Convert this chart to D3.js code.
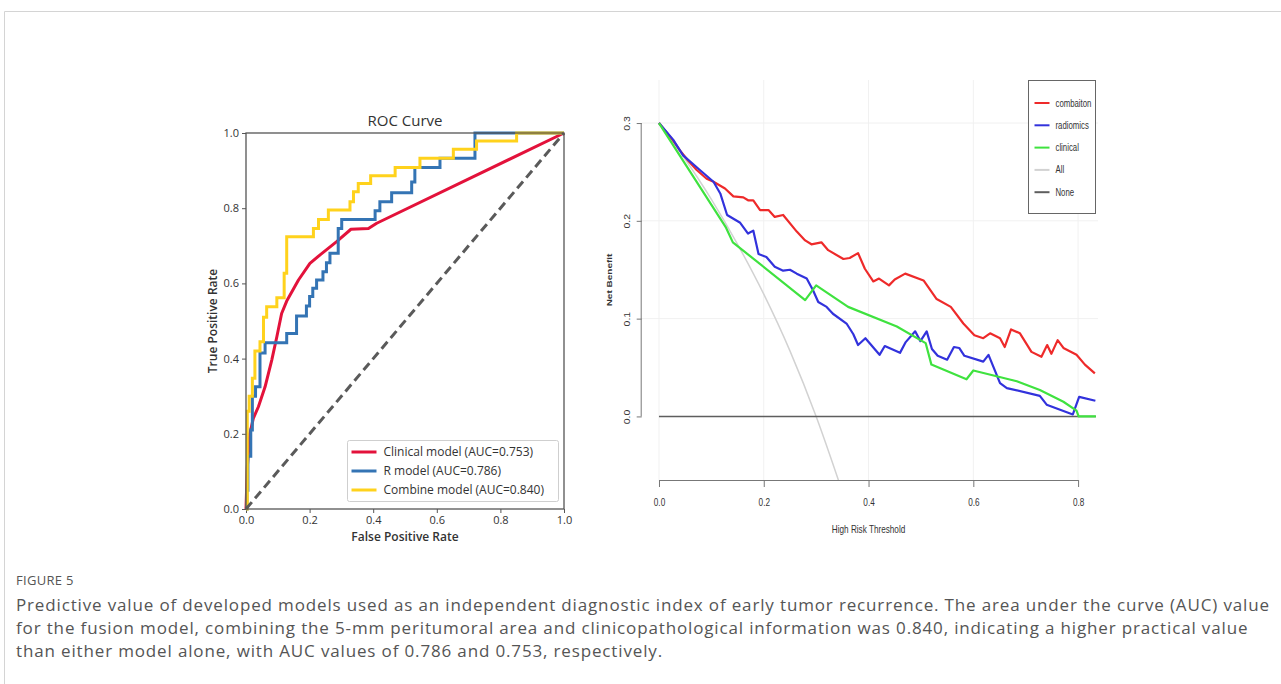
<!DOCTYPE html>
<head>
  <meta charset="utf-8">
  <script src="https://d3js.org/d3.v7.min.js"></script>
  <style>
body {
	margin:0;
	background:#fff;
	}
.roc text {
	font-family: "Open Sans", sans-serif;
	fill: #333;
	}
.dca text {
	font-family: "Liberation Sans", Arial, sans-serif;
	fill: #333;
	}
.caption {
	font-family: "Open Sans", sans-serif;
	fill: #555;
	}
  </style>
</head>

<body>
<div id="graph"></div>
<script>
// ---- ROC data (fpr, tpr) ----
var rocTicks = [0, 0.2, 0.4, 0.6, 0.8, 1.0];
var rocClinical = [[0,0],[0.004,0.11],[0.012,0.2],[0.023,0.241],[0.039,0.272],[0.06,0.325],[0.081,0.396],
  [0.097,0.458],[0.112,0.52],[0.128,0.553],[0.165,0.609],[0.201,0.653],[0.233,0.676],[0.285,0.711],
  [0.33,0.744],[0.385,0.746],[0.411,0.760],[1,1]];
// step corners: x where the curve rises, y after the rise
var rocR = [[0,0],[0.003,0.05],[0.006,0.14],[0.015,0.21],[0.02,0.30],[0.03,0.325],[0.044,0.415],[0.06,0.442],
  [0.128,0.467],[0.159,0.513],[0.19,0.54],[0.2,0.565],[0.21,0.587],[0.222,0.609],[0.242,0.631],[0.253,0.655],
  [0.264,0.68],[0.29,0.746],[0.301,0.770],[0.406,0.793],[0.421,0.817],[0.458,0.841],[0.521,0.87],[0.531,0.908],
  [0.61,0.933],[0.72,1.0],[1,1]];
var rocCombine = [[0,0],[0.004,0.26],[0.01,0.30],[0.02,0.348],[0.028,0.42],[0.044,0.445],[0.055,0.51],
  [0.065,0.538],[0.097,0.562],[0.12,0.627],[0.128,0.724],[0.212,0.746],[0.228,0.770],[0.259,0.795],
  [0.327,0.817],[0.338,0.844],[0.353,0.866],[0.392,0.886],[0.469,0.908],[0.547,0.933],[0.652,0.957],
  [0.725,0.979],[0.851,1.0],[1,1]];
var rocChance = [[0,0],[1,1]];
var rocLegend = ["Clinical model (AUC=0.753)", "R model (AUC=0.786)", "Combine model (AUC=0.840)"];

// ---- DCA data (threshold, net benefit) ----
var dcaXTicks = [0, 0.2, 0.4, 0.6, 0.8];
var dcaYTicks = [0, 0.1, 0.2, 0.3];
var dcaCombination = [[0,0.3],[0.027,0.282],[0.040,0.272],[0.055,0.262],[0.072,0.252],[0.091,0.243],[0.104,0.240],
  [0.126,0.233],[0.142,0.225],[0.161,0.224],[0.170,0.221],[0.180,0.221],[0.193,0.211],[0.209,0.211],[0.221,0.204],
  [0.237,0.206],[0.263,0.189],[0.279,0.180],[0.291,0.176],[0.310,0.178],[0.323,0.170],[0.352,0.161],[0.364,0.162],
  [0.380,0.167],[0.393,0.151],[0.409,0.138],[0.420,0.141],[0.439,0.134],[0.450,0.140],[0.470,0.146],[0.505,0.139],
  [0.530,0.120],[0.557,0.112],[0.581,0.095],[0.602,0.083],[0.619,0.080],[0.632,0.085],[0.651,0.080],[0.660,0.071],
  [0.672,0.089],[0.689,0.085],[0.711,0.066],[0.730,0.061],[0.741,0.073],[0.749,0.064],[0.761,0.078],[0.772,0.070],
  [0.797,0.063],[0.813,0.053],[0.832,0.044]];
var dcaRadiomics = [[0,0.3],[0.027,0.283],[0.046,0.267],[0.078,0.252],[0.104,0.240],[0.117,0.228],[0.130,0.206],
  [0.155,0.198],[0.170,0.187],[0.180,0.190],[0.190,0.166],[0.205,0.163],[0.221,0.153],[0.237,0.149],[0.250,0.150],
  [0.263,0.146],[0.282,0.141],[0.294,0.129],[0.304,0.117],[0.320,0.112],[0.332,0.105],[0.358,0.095],[0.371,0.084],
  [0.380,0.073],[0.394,0.080],[0.421,0.063],[0.431,0.072],[0.460,0.065],[0.471,0.076],[0.489,0.087],[0.499,0.077],
  [0.511,0.087],[0.521,0.069],[0.532,0.062],[0.550,0.058],[0.563,0.071],[0.573,0.070],[0.583,0.062],[0.619,0.056],
  [0.629,0.063],[0.651,0.034],[0.664,0.029],[0.727,0.021],[0.740,0.012],[0.790,0.002],[0.802,0.020],[0.833,0.016]];
var dcaClinical = [[0,0.3],[0.128,0.193],[0.141,0.178],[0.279,0.119],[0.300,0.134],[0.361,0.112],[0.454,0.092],
  [0.509,0.075],[0.520,0.053],[0.587,0.038],[0.600,0.047],[0.683,0.036],[0.727,0.027],[0.772,0.015],[0.797,0.006],
  [0.801,0],[0.834,0]];
var dcaAll = [[0,0.3],[0.05,0.263],[0.1,0.222],[0.15,0.176],[0.2,0.125],[0.25,0.067],[0.3,0.0],[0.35,-0.077]];
var dcaNone = [[0,0],[0.834,0]];
var dcaLegend = ["combaiton", "radiomics", "clinical", "All", "None"];

var captionTitle = "FIGURE 5";
var captionLines = [
  "Predictive value of developed models used as an independent diagnostic index of early tumor recurrence. The area under the curve (AUC) value",
  "for the fusion model, combining the 5-mm peritumoral area and clinicopathological information was 0.840, indicating a higher practical value",
  "than either model alone, with AUC values of 0.786 and 0.753, respectively."
];

var W = 1281, H = 684;
var svg = d3.select("#graph").append("svg")
    .attr("width", W).attr("height", H);

// page frame
svg.append("path").attr("d", "M4.5," + H + "V11.5H" + W)
    .attr("fill", "none").attr("stroke", "#d4d4d4");

// ================= ROC panel =================
var roc = svg.append("g").attr("class", "roc");
var rx = d3.scaleLinear().domain([0, 1]).range([246, 564]);
var ry = d3.scaleLinear().domain([0, 1]).range([509, 133]);

roc.append("g").attr("transform", "translate(0,509)")
    .call(d3.axisBottom(rx).tickValues(rocTicks).tickFormat(d3.format(".1f")).tickSize(4).tickPadding(3))
    .call(function(g) { g.select(".domain").remove(); })
    .call(function(g) { g.selectAll("line").attr("stroke", "#555"); g.selectAll("text").style("font-size", "11px").attr("fill", "#333"); });
roc.append("g").attr("transform", "translate(246,0)")
    .call(d3.axisLeft(ry).tickValues(rocTicks).tickFormat(d3.format(".1f")).tickSize(4).tickPadding(3))
    .call(function(g) { g.select(".domain").remove(); })
    .call(function(g) { g.selectAll("line").attr("stroke", "#555"); g.selectAll("text").style("font-size", "11px").attr("fill", "#333"); });

var lineLin = d3.line().x(function(d) { return rx(d[0]); }).y(function(d) { return ry(d[1]); });
var lineStep = d3.line().curve(d3.curveStepAfter).x(function(d) { return rx(d[0]); }).y(function(d) { return ry(d[1]); });

var rocColors = ["#e3123b", "#3474b4", "#ffd21c"];
roc.append("path").datum(rocClinical).attr("d", lineLin)
    .attr("fill", "none").attr("stroke", rocColors[0]).attr("stroke-width", 3).attr("stroke-linejoin", "round");
roc.append("path").datum(rocR).attr("d", lineStep)
    .attr("fill", "none").attr("stroke", rocColors[1]).attr("stroke-width", 3);
roc.append("path").datum(rocCombine).attr("d", lineStep)
    .attr("fill", "none").attr("stroke", rocColors[2]).attr("stroke-width", 3);
roc.append("path").datum(rocChance).attr("d", lineLin)
    .attr("fill", "none").attr("stroke", "#5a5a5a").attr("stroke-width", 3).attr("stroke-dasharray", "9,5");

// frame
roc.append("rect").attr("x", rx(0)).attr("y", ry(1))
    .attr("width", rx(1) - rx(0)).attr("height", ry(0) - ry(1))
    .attr("fill", "none").attr("stroke", "#555").attr("stroke-width", 1.3);

roc.append("text").attr("x", (rx(0) + rx(1)) / 2).attr("y", 126)
    .attr("text-anchor", "middle").style("font-size", "15px").attr("fill", "#222").text("ROC Curve");
roc.append("text").attr("x", (rx(0) + rx(1)) / 2).attr("y", 541)
    .attr("text-anchor", "middle").style("font-size", "12px").style("font-weight", 600).text("False Positive Rate");
roc.append("text").attr("transform", "translate(217," + (ry(0) + ry(1)) / 2 + ") rotate(-90)")
    .attr("text-anchor", "middle").style("font-size", "12px").style("font-weight", 600).text("True Positive Rate");

// legend
var rl = roc.append("g").attr("transform", "translate(347.5,440.5)");
rl.append("rect").attr("width", 211).attr("height", 61).attr("rx", 2)
    .attr("fill", "#fff").attr("stroke", "#cfcfcf");
rocLegend.forEach(function(t, i) {
  var yy = 11.5 + i * 19;
  rl.append("line").attr("x1", 4).attr("x2", 29).attr("y1", yy).attr("y2", yy)
      .attr("stroke", rocColors[i]).attr("stroke-width", 3);
  rl.append("text").attr("x", 36).attr("y", yy).attr("dy", "0.35em")
      .style("font-size", "12px").text(t);
});

// ================= DCA panel =================
var dca = svg.append("g").attr("class", "dca");
var dx = d3.scaleLinear().domain([-0.033, 0.838]).range([641.7, 1098]);
var dy = d3.scaleLinear().domain([-0.065, 0.344]).range([480, 80]);
var sx = 0.78; // the published panel is squeezed horizontally

// faint grid
dca.selectAll(".vg").data(dcaXTicks).enter().append("line")
    .attr("x1", function(d) { return dx(d); }).attr("x2", function(d) { return dx(d); })
    .attr("y1", dy.range()[1]).attr("y2", dy.range()[0])
    .attr("stroke", "#f1f1f1");
dca.selectAll(".hg").data(dcaYTicks.slice(1)).enter().append("line")
    .attr("x1", dx.range()[0]).attr("x2", dx.range()[1])
    .attr("y1", function(d) { return dy(d); }).attr("y2", function(d) { return dy(d); })
    .attr("stroke", "#f1f1f1");

dca.append("defs").append("clipPath").attr("id", "dcaclip").append("rect")
    .attr("x", dx.range()[0]).attr("y", dy.range()[1])
    .attr("width", dx.range()[1] - dx.range()[0]).attr("height", dy.range()[0] - dy.range()[1]);

var dLine = d3.line().x(function(d) { return dx(d[0]); }).y(function(d) { return dy(d[1]); });
var dcaColors = ["#ee2a2a", "#3232dc", "#3fe23f", "#d2d2d2", "#5e5e5e"];
var plot = dca.append("g").attr("clip-path", "url(#dcaclip)");
plot.append("path").datum(dcaAll).attr("d", dLine.curve(d3.curveMonotoneX))
    .attr("fill", "none").attr("stroke", dcaColors[3]).attr("stroke-width", 1.5);
dLine.curve(d3.curveLinear);
plot.append("path").datum(dcaNone).attr("d", dLine)
    .attr("fill", "none").attr("stroke", dcaColors[4]).attr("stroke-width", 1.6);
[dcaCombination, dcaRadiomics, dcaClinical].forEach(function(s, i) {
  plot.append("path").datum(s).attr("d", dLine)
      .attr("fill", "none").attr("stroke", dcaColors[i]).attr("stroke-width", 2.2)
      .attr("stroke-linejoin", "round");
});

// axes
var xa = dca.append("g").attr("transform", "translate(0,480)")
    .call(d3.axisBottom(dx).tickValues(dcaXTicks).tickFormat(d3.format(".1f")).tickSizeOuter(0).tickSize(7).tickPadding(0));
xa.select(".domain").attr("stroke", "#777").attr("d", "M" + dx(0) + ",0.5H" + dx(0.8));
xa.selectAll("line").attr("stroke", "#777");
xa.selectAll("text").attr("y", 0).attr("dy", 0)
    .attr("transform", "translate(0,26) scale(" + sx + ",1)")
    .style("font-size", "10.5px").attr("fill", "#333");

var ya = dca.append("g").attr("transform", "translate(" + dx.range()[0] + ",0)")
    .call(d3.axisLeft(dy).tickValues(dcaYTicks).tickFormat(d3.format(".1f")).tickSizeOuter(0).tickSize(5));
ya.select(".domain").attr("stroke", "#777").attr("d", "M-0.5," + dy(0) + "V" + dy(0.3));
ya.selectAll("line").attr("stroke", "#777");
ya.selectAll("text").attr("x", 0).attr("dy", 0).attr("text-anchor", "middle")
    .attr("transform", "translate(-12,0) scale(" + sx + ",1) rotate(-90)")
    .style("font-size", "10.5px").attr("fill", "#333");

dca.append("text").attr("transform", "translate(" + (dx(0) + dx(0.8)) / 2 + ",533) scale(" + sx + ",1)")
    .attr("text-anchor", "middle").style("font-size", "10.5px").text("High Risk Threshold");
dca.append("text").attr("transform", "translate(612," + (dy.range()[0] + dy.range()[1]) / 2 + ") scale(" + sx + ",1) rotate(-90)")
    .attr("text-anchor", "middle").style("font-size", "10px").style("font-weight", "bold").text("Net Benefit");

// legend
var dl = dca.append("g").attr("transform", "translate(1028.5,80.5)");
dl.append("rect").attr("width", 67).attr("height", 133)
    .attr("fill", "#fff").attr("stroke", "#666");
dcaLegend.forEach(function(t, i) {
  var yy = 22.5 + i * 22.3;
  dl.append("line").attr("x1", 6).attr("x2", 21).attr("y1", yy).attr("y2", yy)
      .attr("stroke", dcaColors[i]).attr("stroke-width", 2);
  dl.append("text").attr("transform", "translate(27," + yy + ") scale(" + sx + ",1)")
      .attr("dy", "0.35em").style("font-size", "10px").text(t);
});

// ================= caption =================
svg.append("text").attr("class", "caption").attr("x", 16).attr("y", 585)
    .style("font-size", "13px").style("letter-spacing", "0.3px").attr("fill", "#666").text(captionTitle);
svg.selectAll(".capline").data(captionLines).enter().append("text")
    .attr("class", "caption").attr("x", 16)
    .attr("y", function(d, i) { return 611 + i * 23; })
    .style("font-size", "17px").style("letter-spacing", "0.85px").text(function(d) { return d; });
</script>
</body>
